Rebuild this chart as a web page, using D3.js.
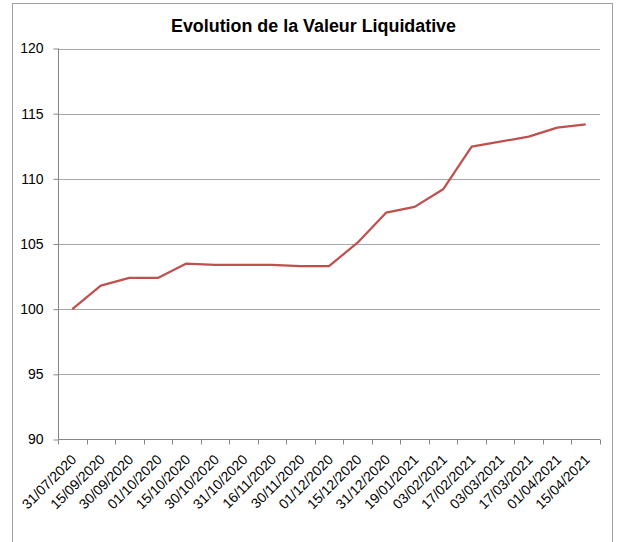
<!DOCTYPE html>
<html>
<head>
<meta charset="utf-8">
<script src="https://cdn.jsdelivr.net/npm/d3@7"></script>
<style>
    body { margin: 0; background: #fff; }
    svg { display: block; }
    text { font-family: "Liberation Sans", Arial, sans-serif; fill: #000; }
</style>
</head>
<body>
<div id="chart"></div>
<script>
// dates of the valuations (category axis)
const dates = ["31/07/2020", "15/09/2020", "30/09/2020", "01/10/2020", "15/10/2020",
    "30/10/2020", "31/10/2020", "16/11/2020", "30/11/2020", "01/12/2020",
    "15/12/2020", "31/12/2020", "19/01/2021", "03/02/2021", "17/02/2021",
    "03/03/2021", "17/03/2021", "01/04/2021", "15/04/2021"];

// valeur liquidative, base 100
const values = [100, 101.8, 102.4, 102.4, 103.5,
    103.4, 103.4, 103.4, 103.3, 103.3,
    105.1, 107.4, 107.85, 109.2, 112.47,
    112.85, 113.24, 113.93, 114.17];

const yTicks = [90, 95, 100, 105, 110, 115, 120];
const title = "Evolution de la Valeur Liquidative";

const width = 619, height = 542;
const plot = {left: 58, right: 600, top: 48.5, bottom: 439.5};

const svg = d3.select("#chart").append("svg")
    .attr("width", width)
    .attr("height", height);

svg.append("rect")
    .attr("width", width).attr("height", height)
    .attr("fill", "#fff");

// chart area border
svg.append("rect")
    .attr("x", 12.5).attr("y", 3.5)
    .attr("width", 600).attr("height", 545)
    .attr("fill", "none")
    .attr("stroke", "#a0a0a0");

svg.append("text")
    .attr("x", 313.5).attr("y", 32)
    .attr("text-anchor", "middle")
    .attr("font-size", 17.5)
    .attr("font-weight", "bold")
    .attr("textLength", 285)
    .attr("lengthAdjust", "spacingAndGlyphs")
    .text(title);

const x = d3.scaleBand()
    .domain(dates)
    .range([plot.left, plot.right]);

const y = d3.scaleLinear()
    .domain([90, 120])
    .range([plot.bottom, plot.top]);

// gridlines
svg.append("g")
    .selectAll("line")
    .data(yTicks.filter(d => d > 90))
    .join("line")
    .attr("x1", plot.left).attr("x2", plot.right)
    .attr("y1", d => Math.round(y(d)) + 0.5)
    .attr("y2", d => Math.round(y(d)) + 0.5)
    .attr("stroke", "#a6a6a6");

// y axis
const yAxis = svg.append("g")
    .attr("transform", `translate(${plot.left + 0.5},0)`)
    .call(d3.axisLeft(y).tickValues(yTicks).tickSize(5).tickPadding(10));
yAxis.selectAll("text").attr("font-size", 14).attr("font-family", "Liberation Sans, Arial, sans-serif");
yAxis.selectAll("line, path").attr("stroke", "#868686");
yAxis.select(".domain").attr("d", `M0,${plot.top}V${plot.bottom}`);

// x axis, ticks at category edges
const xg = svg.append("g")
    .attr("transform", `translate(0,${plot.bottom})`);
xg.append("line")
    .attr("x1", plot.left).attr("x2", plot.right)
    .attr("stroke", "#868686");
const edges = dates.map(d => x(d)).concat([plot.right]);
xg.selectAll("line.tick")
    .data(edges)
    .join("line")
    .attr("class", "tick")
    .attr("x1", d => Math.round(d) + 0.5).attr("x2", d => Math.round(d) + 0.5)
    .attr("y1", 0).attr("y2", 5)
    .attr("stroke", "#868686");

xg.selectAll("text")
    .data(dates)
    .join("text")
    .attr("transform", d => `translate(${x(d) + x.bandwidth() / 2 + 5},21) rotate(-45)`)
    .attr("text-anchor", "end")
    .attr("font-size", 14)
    .text(d => d);

// the line
const line = d3.line()
    .x((d, i) => x(dates[i]) + x.bandwidth() / 2)
    .y(d => y(d));

svg.append("path")
    .datum(values)
    .attr("d", line)
    .attr("fill", "none")
    .attr("stroke", "#c0504d")
    .attr("stroke-width", 2.25)
    .attr("stroke-linejoin", "round");
</script>
</body>
</html>
